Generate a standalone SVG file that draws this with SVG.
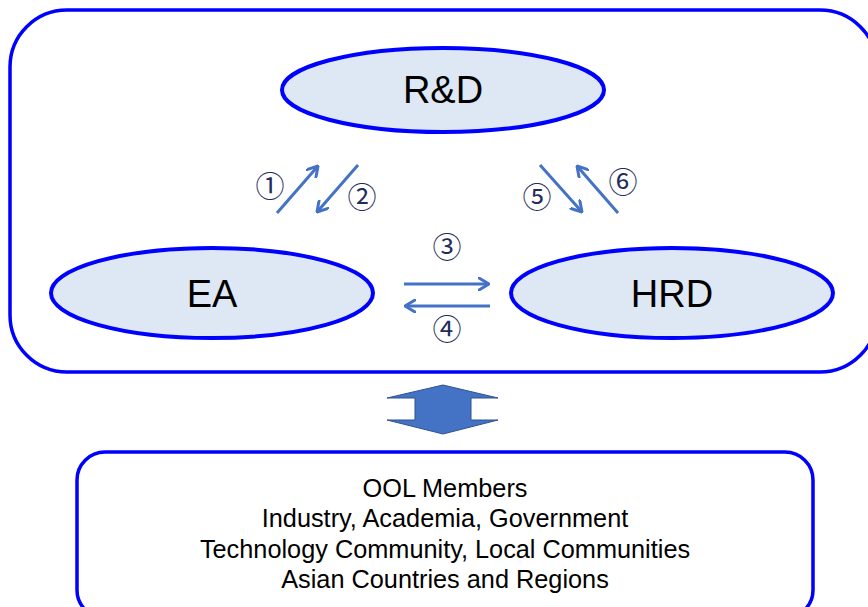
<svg xmlns="http://www.w3.org/2000/svg" width="868" height="607" viewBox="0 0 868 607">
<defs>
<style>
.frame{fill:none;stroke:#0000FF;stroke-width:3.5}
.node{fill:#DEE8F5;stroke:#0000FF;stroke-width:4}
.lbl{font-family:"Liberation Sans",Arial,sans-serif;font-size:38px;fill:#000;text-anchor:middle}
.num{font-family:"Noto Sans CJK JP","DejaVu Sans",sans-serif;font-size:29px;fill:#1F2D5C;text-anchor:middle}
.con{fill:none;stroke:#4472C4;stroke-width:3;marker-end:url(#ah)}
.mem{font-family:"Liberation Sans",Arial,sans-serif;font-size:25.3px;fill:#000;text-anchor:middle}
</style>
<marker id="ah" viewBox="0 0 12 14" refX="11" refY="7" markerWidth="12" markerHeight="14" markerUnits="userSpaceOnUse" orient="auto">
<path d="M1,1 L11,7 L1,13" fill="none" stroke="#4472C4" stroke-width="3" stroke-linecap="round" stroke-linejoin="round"/>
</marker>
</defs>
<rect class="frame" x="10" y="10" width="867" height="362" rx="57" ry="57"/>
<g id="rd">
<ellipse class="node" cx="443" cy="90" rx="161" ry="42"/>
<text class="lbl" x="443" y="103">R&amp;D</text>
</g>
<g id="ea">
<ellipse class="node" cx="212" cy="293" rx="161" ry="45"/>
<text class="lbl" x="212" y="307">EA</text>
</g>
<g id="hrd">
<ellipse class="node" cx="672" cy="293" rx="161" ry="45"/>
<text class="lbl" x="672" y="307">HRD</text>
</g>
<g id="connectors">
<line class="con" x1="277" y1="213" x2="318" y2="166"/>
<line class="con" x1="358" y1="165" x2="317" y2="212"/>
<line class="con" x1="540" y1="165" x2="582" y2="212"/>
<line class="con" x1="618" y1="213" x2="577" y2="166"/>
<line class="con" x1="404" y1="284" x2="489" y2="284"/>
<line class="con" x1="490" y1="306" x2="405" y2="306"/>
</g>
<g id="labels">
<text class="num" x="270" y="197">①</text>
<text class="num" x="362" y="208">②</text>
<text class="num" x="447" y="258">③</text>
<text class="num" x="447" y="340">④</text>
<text class="num" x="537" y="208">⑤</text>
<text class="num" x="623" y="193">⑥</text>
</g>
<g id="updown">
<polygon points="443,385 498,398 471,398 471,420 498,420 443,434 387,420 415,420 415,398 387,398" fill="#4472C4" stroke="#2F528F" stroke-width="1"/>
</g>
<g id="members">
<rect class="frame" x="77" y="452" width="736" height="166" rx="28" ry="28"/>
<text class="mem" x="445" y="497">OOL Members</text>
<text class="mem" x="445" y="527">Industry, Academia, Government</text>
<text class="mem" x="445" y="558">Technology Community, Local Communities</text>
<text class="mem" x="445" y="588">Asian Countries and Regions</text>
</g>
</svg>
